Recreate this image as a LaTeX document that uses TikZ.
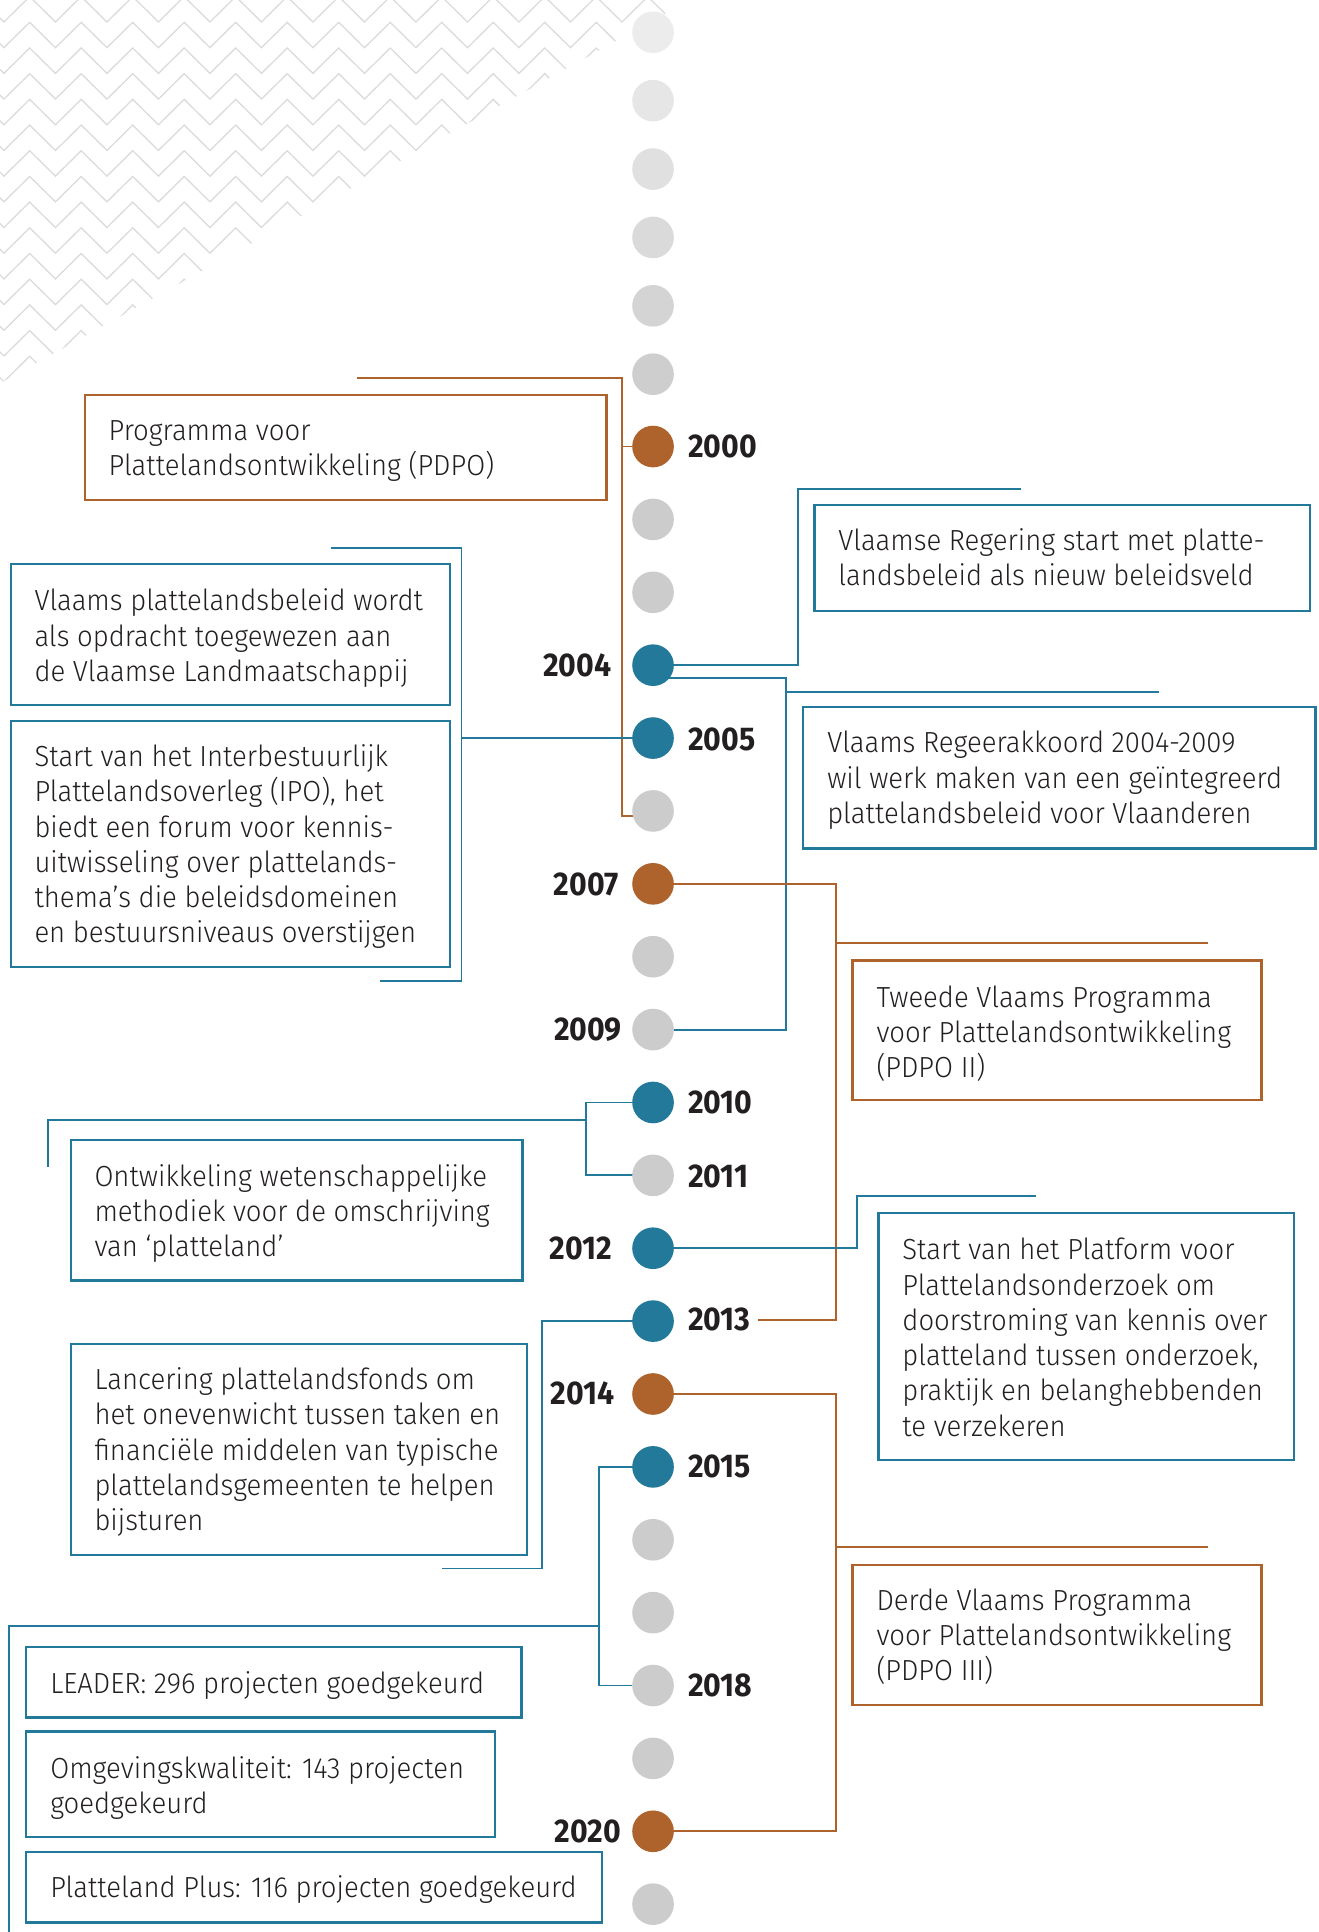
\documentclass[tikz,border=0pt]{standalone}
\usepackage{fontspec}
\usetikzlibrary{calc}
\newfontfamily\boxfont{Fira Sans Light}[FakeStretch=0.945]
\newfontfamily\yearfont{Fira Sans}[FakeStretch=0.92]
\definecolor{cbrown}{HTML}{AD632B}
\definecolor{cblue}{HTML}{22799A}
\definecolor{cgray}{HTML}{CCCCCC}
\definecolor{ctext}{HTML}{231F20}
\definecolor{czz}{HTML}{DCDCDC}
\tikzset{
  dotnode/.style={circle, minimum size=16.9pt, inner sep=0pt, draw=none},
  brownline/.style={draw=cbrown, line width=0.75pt},
  blueline/.style={draw=cblue, line width=0.75pt},
  boxframe/.style={line width=0.95pt, inner sep=0pt, anchor=north west, fill=white},
  bluebox/.style={boxframe, draw=cblue},
  brownbox/.style={boxframe, draw=cbrown},
  boxtext/.style={anchor=west, inner sep=0pt, yshift=-1.25pt, align=left, text=ctext, font={\boxfont\fontsize{11.8pt}{14.3pt}\selectfont}},
  yearR/.style={anchor=west, inner sep=0pt, text=ctext, font={\yearfont\bfseries\fontsize{13.35pt}{14pt}\selectfont}},
  yearL/.style={yearR, anchor=east},
  zz/.style={draw=czz, line width=0.55pt, line join=miter}
}
\begin{document}
\begin{tikzpicture}[x=0.5pt, y=-0.5pt]
\useasboundingbox (0,0) rectangle (1070,1568);

% zigzag background
\begin{scope}
  \clip (0,0) -- (560,0) -- (0,311) -- cycle;
  \foreach \k in {0,...,15}{
    \pgfmathsetmacro{\py}{-2.75+20.85*\k}
    \draw[zz] (-38.6,\py+20.6) \foreach \m in {-1,...,13}{ -- ({24.1+41.8*\m},\py) -- ({45+41.8*\m},\py+20.6) };
  }
\end{scope}

% timeline dot positions
\foreach \nm/\i in {g1/0,g2/1,g3/2,g4/3,g5/4,g6/5}{
  \coordinate (p\nm) at (530,{26.2+55.5*\i});
}
\foreach \nm/\i in {2000/0,2002/1,2003/2,2004/3,2005/4,2006/5,2007/6,2008/7,2009/8,2010/9,2011/10,2012/11,2013/12,2014/13,2015/14,2016/15,2017/16,2018/17,2019/18,2020/19,2021/20}{
  \coordinate (p\nm) at (530,{362.4+59.15*\i});
}
\foreach \nm in {g1,g2,g3,g4,g5,g6,2000,2002,2003,2004,2005,2006,2007,2008,2009,2010,2011,2012,2013,2014,2015,2016,2017,2018,2019,2020,2021}{
  \node[dotnode] (d\nm) at (p\nm) {};
}

% connector coordinates
\coordinate (pA) at (289.8,306.7);
\coordinate (pV) at (504.5,306.7);
\coordinate (qA) at (268.4,444.6);
\coordinate (qB) at (374.5,444.6);
\coordinate (qC) at (374.5,796.3);
\coordinate (qD) at (308.7,796.3);
\coordinate (rA) at (647.9,397);
\coordinate (rB) at (828.7,397);
\coordinate (sA) at (637.6,550);
\coordinate (sT) at (941,561.6);
\coordinate (uA) at (678.6,1071);
\coordinate (uB) at (615.3,1071);
\coordinate (uT) at (980.5,765.3);
\coordinate (vA) at (475.4,908.9);
\coordinate (vB) at (39.1,908.9);
\coordinate (vC) at (39.1,947.4);
\coordinate (wA) at (695.8,970.8);
\coordinate (wB) at (841,970.8);
\coordinate (xA) at (440,1273);
\coordinate (xB) at (358.4,1273);
\coordinate (yA) at (678.6,1255.8);
\coordinate (yB) at (980.5,1255.8);
\coordinate (zA) at (486.4,1319.5);
\coordinate (zB) at (7.3,1319.5);
\coordinate (zC) at (7.3,1568);

% connectors
\draw[brownline] (pA) -- (pV) |- ([yshift=-2pt]d2006.center);
\draw[brownline] (pV |- d2000) -- (d2000.center);
\draw[blueline] (qA) -- (qB) -- (qC) -- (qD);
\draw[blueline] (qB |- d2005) -- (d2005.center);
\draw[blueline] (d2004.center) -| (rA) -- (rB);
\draw[blueline] (d2004.center |- sA) -- (sA) |- (d2009.center);
\draw[blueline] (sA |- sT) -- (sT);
\draw[brownline] (d2007.center) -| (uA) -- (uB);
\draw[brownline] (uA |- uT) -- (uT);
\draw[blueline] (d2010.center) -| (vA) |- (d2011.center);
\draw[blueline] (vA) -- (vB) -- (vC);
\draw[blueline] (d2012.center) -| (wA) -- (wB);
\draw[blueline] (d2013.center) -| (xA) -- (xB);
\draw[brownline] (d2014.center) -| (yA) |- (d2020.center);
\draw[brownline] (yA) -- (yB);
\draw[blueline] (d2015.center) -| (zA) |- (d2018.center);
\draw[blueline] (zA) -- (zB) -- (zC);

% dots drawn on top
\foreach \nm/\c in {g1/ECECEC,g2/E6E6E6,g3/E0E0E0,g4/DADADA,g5/D4D4D4,g6/CECECE}{
  \definecolor{tmpc}{HTML}{\c}
  \fill[tmpc] (d\nm.center) circle[radius=8.45pt];
}
\foreach \nm in {2002,2003,2006,2008,2009,2011,2016,2017,2018,2019,2021}{
  \fill[cgray] (d\nm.center) circle[radius=8.45pt];
}
\foreach \nm in {2000,2007,2014,2020}{
  \fill[cbrown] (d\nm.center) circle[radius=8.45pt];
}
\foreach \nm in {2004,2005,2010,2012,2013,2015}{
  \fill[cblue] (d\nm.center) circle[radius=8.45pt];
}

% year labels
\node[yearR] (y2000) at (558,362.4) {2000};
\node[yearL] (y2004) at (496.5,540) {2004};
\node[yearR] (y2005) at (558,600.5) {2005};
\node[yearL] (y2007) at (502.3,718) {2007};
\node[yearL] (y2009) at (505,836) {2009};
\node[yearR] (y2010) at (558,895) {2010};
\node[yearR] (y2011) at (558,954.5) {2011};
\node[yearL] (y2012) at (497,1013) {2012};
\node[yearR] (y2013) at (558,1071) {2013};
\node[yearL] (y2014) at (499,1131) {2014};
\node[yearR] (y2015) at (558,1190) {2015};
\node[yearR] (y2018) at (558,1367.7) {2018};
\node[yearL] (y2020) at (504.5,1486.4) {2020};

% boxes
\node[brownbox, minimum width=211.7pt, minimum height=42.65pt] (b1) at (67.8,319.4) {};
\node[bluebox, minimum width=177.95pt, minimum height=57.15pt] (b2) at (8.1,457) {};
\node[bluebox, minimum width=177.95pt, minimum height=99.85pt] (b3) at (8.1,584) {};
\node[bluebox, minimum width=201pt, minimum height=43pt] (b4) at (660,409) {};
\node[bluebox, minimum width=208.1pt, minimum height=57.35pt] (b5) at (650.6,573) {};
\node[brownbox, minimum width=166pt, minimum height=56.7pt] (b6) at (691,778.6) {};
\node[bluebox, minimum width=183.25pt, minimum height=57.2pt] (b7) at (56.5,924) {};
\node[bluebox, minimum width=168.65pt, minimum height=100.1pt] (b8) at (711.9,983.5) {};
\node[bluebox, minimum width=185.05pt, minimum height=85.55pt] (b9) at (56.5,1089.9) {};
\node[brownbox, minimum width=166pt, minimum height=56.9pt] (b10) at (691,1269.2) {};
\node[bluebox, minimum width=201pt, minimum height=28.55pt] (b11) at (20.2,1335.8) {};
\node[bluebox, minimum width=190.3pt, minimum height=42.85pt] (b12) at (20.2,1404.3) {};
\node[bluebox, minimum width=233.7pt, minimum height=28.65pt] (b13) at (20.2,1502.1) {};

% box texts
\node[boxtext] (t1) at (87.8,363.4) {\strut Programma voor\\Plattelandsontwikkeling (PDPO)\strut};
\node[boxtext] (t2) at (27.6,516.1) {\strut Vlaams plattelandsbeleid wordt\\als opdracht toegewezen aan\\de Vlaamse Landmaatschappij\strut};
\node[boxtext] (t3) at (27.6,685.5) {\strut Start van het Interbestuurlijk\\Plattelandsoverleg (IPO), het\\biedt een forum voor kennis-\\uitwisseling over plattelands-\\thema’s die beleidsdomeinen\\en bestuursniveaus overstijgen\strut};
\node[boxtext] (t4) at (680,453) {\strut Vlaamse Regering start met platte-\\landsbeleid als nieuw beleidsveld\strut};
\node[boxtext] (t5) at (671,631.5) {\strut Vlaams Regeerakkoord 2004-2009\\wil werk maken van een geïntegreerd\\plattelandsbeleid voor Vlaanderen\strut};
\node[boxtext] (t6) at (711,837.7) {\strut Tweede Vlaams Programma\\voor Plattelandsontwikkeling\\(PDPO II)\strut};
\node[boxtext] (t7) at (76.3,983.2) {\strut Ontwikkeling wetenschappelijke\\methodiek voor de omschrijving\\van ‘platteland’\strut};
\node[boxtext] (t8) at (732,1085.8) {\strut Start van het Platform voor\\Plattelandsonderzoek om\\doorstroming van kennis over\\platteland tussen onderzoek,\\praktijk en belanghebbenden\\te verzekeren\strut};
\node[boxtext] (t9) at (76.3,1176.8) {\strut Lancering plattelandsfonds om\\het onevenwicht tussen taken en\\financiële middelen van typische\\plattelandsgemeenten te helpen\\bijsturen\strut};
\node[boxtext] (t10) at (711,1327.4) {\strut Derde Vlaams Programma\\voor Plattelandsontwikkeling\\(PDPO III)\strut};
\node[boxtext] (t11) at (40.4,1366) {\strut LEADER: 296 projecten goedgekeurd\strut};
\node[boxtext] (t12) at (40.4,1449.4) {\strut Omgevingskwaliteit: 143 projecten\\goedgekeurd\strut};
\node[boxtext] (t13) at (40.4,1531.9) {\strut Platteland Plus: 116 projecten goedgekeurd\strut};
\end{tikzpicture}
\end{document}
